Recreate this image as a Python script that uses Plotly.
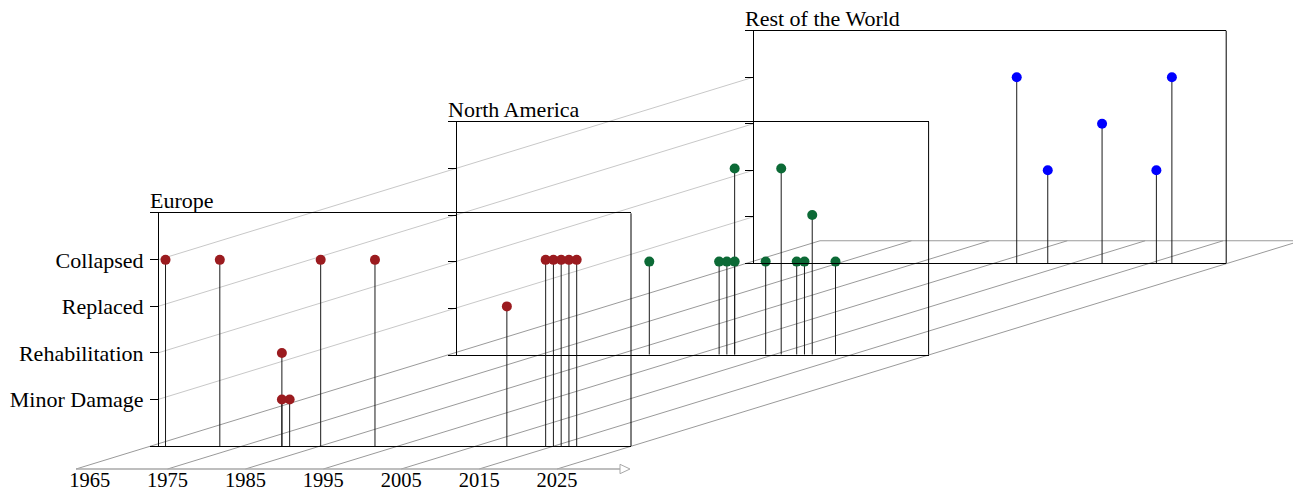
import plotly.graph_objects as go

# ---------------- data ----------------
status_levels = ["Minor Damage", "Rehabilitation", "Replaced", "Collapsed"]
year_ticks = [1965, 1975, 1985, 1995, 2005, 2015, 2025]
region_names = ["Europe", "North America", "Rest of the World"]
region_colors = ["#9b1b1f", "#0c6a36", "#0000ff"]

europe_years = [1975, 1982, 1990, 1990, 1991, 1995, 2002, 2019, 2024, 2025, 2026, 2027, 2028]
europe_status = ["Collapsed", "Collapsed", "Rehabilitation", "Minor Damage", "Minor Damage",
                 "Collapsed", "Collapsed", "Replaced", "Collapsed", "Collapsed", "Collapsed",
                 "Collapsed", "Collapsed"]

na_years = [1999, 2008, 2009, 2010, 2010, 2014, 2016, 2018, 2019, 2020, 2023]
na_status = ["Rehabilitation", "Rehabilitation", "Rehabilitation", "Rehabilitation", "Collapsed",
             "Rehabilitation", "Collapsed", "Rehabilitation", "Rehabilitation", "Replaced",
             "Rehabilitation"]

row_years = [2008, 2012, 2019, 2026, 2028]
row_status = ["Collapsed", "Rehabilitation", "Replaced", "Rehabilitation", "Collapsed"]

region_years = [europe_years, na_years, row_years]
region_status = [europe_status, na_status, row_status]

# ---------------- geometry (pixels in the 1301x492 window) ----------------
PAGE_W, PAGE_H = 1301, 492
BODY_MARGIN = 8  # default html body margin
W, H = PAGE_W - BODY_MARGIN, PAGE_H - BODY_MARGIN
FONT = "Liberation Serif"
PANEL_LEFT, PANEL_RIGHT = 150.0, 631.0
PANEL_TOP, PANEL_BOTTOM = 213.3, 446.0
AXIS_X = 158.0
DEPTH_DX, DEPTH_DY = 297.6, -91.3
YEAR_RANGE = [1973, 2035]
LEVEL_RANGE = [0, 5]
BASE_LEFT, BASE_RIGHT, BASE_Y = 76.0, 630.0, 469.0
BASE_LABEL_Y = 465.0
BASE_PX_PER_YEAR = 7.79
BASE_RANGE = [1963.25, 1963.25 + (BASE_RIGHT - BASE_LEFT) / BASE_PX_PER_YEAR]


def fx(px):
    return (px - BODY_MARGIN) / W


def fy(py):
    return 1 - (py - BODY_MARGIN) / H


level_of = {s: i + 1 for i, s in enumerate(status_levels)}

fig = go.Figure()
layout_axes = {}
shapes = []
annotations = []

for k, name in enumerate(region_names):
    sfx = "" if k == 0 else str(k + 1)
    xa, ya = "x" + sfx, "y" + sfx
    left = PANEL_LEFT + k * DEPTH_DX
    right = PANEL_RIGHT + k * DEPTH_DX
    top = PANEL_TOP + k * DEPTH_DY
    bottom = PANEL_BOTTOM + k * DEPTH_DY
    axis_x = AXIS_X + k * DEPTH_DX

    years = region_years[k]
    levels = [level_of[s] for s in region_status[k]]

    # stems
    sx, sy = [], []
    for yr, lv in zip(years, levels):
        sx += [yr, yr, None]
        sy += [0, lv, None]
    fig.add_trace(go.Scatter(x=sx, y=sy, mode="lines", line=dict(color="#1a1a1a", width=1),
                             xaxis=xa, yaxis=ya, hoverinfo="skip", showlegend=False))
    fig.add_trace(go.Scatter(x=years, y=levels, mode="markers", name=name,
                             marker=dict(color=region_colors[k], size=10),
                             xaxis=xa, yaxis=ya, showlegend=False))

    layout_axes["xaxis" + sfx] = dict(
        domain=[fx(left), fx(right)], range=YEAR_RANGE, anchor=ya, automargin=False,
        showline=True, mirror=True, linecolor="black", linewidth=1,
        showgrid=False, zeroline=False, ticks="", showticklabels=False, fixedrange=True)
    layout_axes["yaxis" + sfx] = dict(
        domain=[fy(bottom), fy(top)], range=LEVEL_RANGE, anchor="free", position=fx(axis_x),
        automargin=False, showline=True, linecolor="black", linewidth=1,
        tickmode="array", tickvals=list(range(1, len(status_levels) + 1)),
        ticktext=status_levels, ticks="outside", ticklen=8, tickcolor="black", tickwidth=1,
        ticklabelstandoff=2,
        showticklabels=(k == 0), tickfont=dict(family=FONT, size=22, color="black"),
        showgrid=False, zeroline=False, fixedrange=True)

    # right edge of the panel frame
    shapes.append(dict(type="line", xref=xa + " domain", yref=ya + " domain",
                       x0=1, x1=1, y0=0, y1=1, line=dict(color="black", width=1)))
    annotations.append(dict(text=name, xref=xa + " domain", yref=ya + " domain",
                            x=0, y=1, xanchor="left", yanchor="bottom", showarrow=False,
                            xshift=-1, yshift=-1, borderpad=0,
                            font=dict(family=FONT, size=22, color="black")))

# light connectors between level ticks of first and last panel
level_px = (PANEL_BOTTOM - PANEL_TOP) / (LEVEL_RANGE[1] - LEVEL_RANGE[0])
for lv in range(1, len(status_levels) + 1):
    y0 = PANEL_BOTTOM - lv * level_px
    shapes.append(dict(type="line", xref="paper", yref="paper", layer="below",
                       x0=fx(AXIS_X), y0=fy(y0),
                       x1=fx(AXIS_X + 2 * DEPTH_DX), y1=fy(y0 + 2 * DEPTH_DY),
                       line=dict(color="#c8c8c8", width=1)))

# floor lines from the base axis going back in depth
floor_depth = 2.5
starts = [BASE_LEFT] + [BASE_LEFT + (t - BASE_RANGE[0]) * BASE_PX_PER_YEAR for t in year_ticks[1:]]
for sxp in starts:
    shapes.append(dict(type="line", xref="paper", yref="paper", layer="below",
                       x0=fx(sxp), y0=fy(BASE_Y),
                       x1=fx(sxp + floor_depth * DEPTH_DX), y1=fy(BASE_Y + floor_depth * DEPTH_DY),
                       line=dict(color="#9a9a9a", width=1)))
shapes.append(dict(type="line", xref="paper", yref="paper", layer="below",
                   x0=fx(starts[0] + floor_depth * DEPTH_DX), x1=fx(starts[-1] + floor_depth * DEPTH_DX),
                   y0=fy(BASE_Y + floor_depth * DEPTH_DY), y1=fy(BASE_Y + floor_depth * DEPTH_DY),
                   line=dict(color="#9a9a9a", width=1)))

# base year axis with open arrow head
tip = BASE_RIGHT
shapes.append(dict(type="line", xref="paper", yref="paper",
                   x0=fx(BASE_LEFT), x1=fx(tip - 10), y0=fy(BASE_Y), y1=fy(BASE_Y),
                   line=dict(color="#a8a8a8", width=1.5)))
shapes.append(dict(type="path", xref="paper", yref="paper",
                   path=f"M {fx(tip-10)} {fy(BASE_Y-4.7)} L {fx(tip)} {fy(BASE_Y)} L {fx(tip-10)} {fy(BASE_Y+4.7)} Z",
                   fillcolor="white", line=dict(color="#a8a8a8", width=1)))

fig.add_trace(go.Scatter(x=year_ticks, y=[0] * len(year_ticks), mode="markers",
                         marker=dict(opacity=0), xaxis="x4", yaxis="y4",
                         hoverinfo="skip", showlegend=False))
layout_axes["xaxis4"] = dict(domain=[fx(BASE_LEFT), fx(BASE_RIGHT)], range=BASE_RANGE, anchor="y4",
                             automargin=False, showline=False, ticks="", tickmode="array",
                             tickvals=year_ticks,
                             tickfont=dict(family=FONT, size=20.5, color="black"),
                             showgrid=False, zeroline=False, fixedrange=True)
layout_axes["yaxis4"] = dict(domain=[fy(BASE_LABEL_Y), fy(BASE_LABEL_Y) + 0.002], range=[0, 1],
                             visible=False, automargin=False, fixedrange=True)

fig.update_layout(width=W, height=H, autosize=False,
                  margin=dict(l=0, r=0, t=0, b=0, pad=0),
                  paper_bgcolor="white", plot_bgcolor="rgba(0,0,0,0)",
                  shapes=shapes, annotations=annotations, showlegend=False,
                  font=dict(family=FONT, size=21, color="black"),
                  **layout_axes)

fig.write_html("out.html")
